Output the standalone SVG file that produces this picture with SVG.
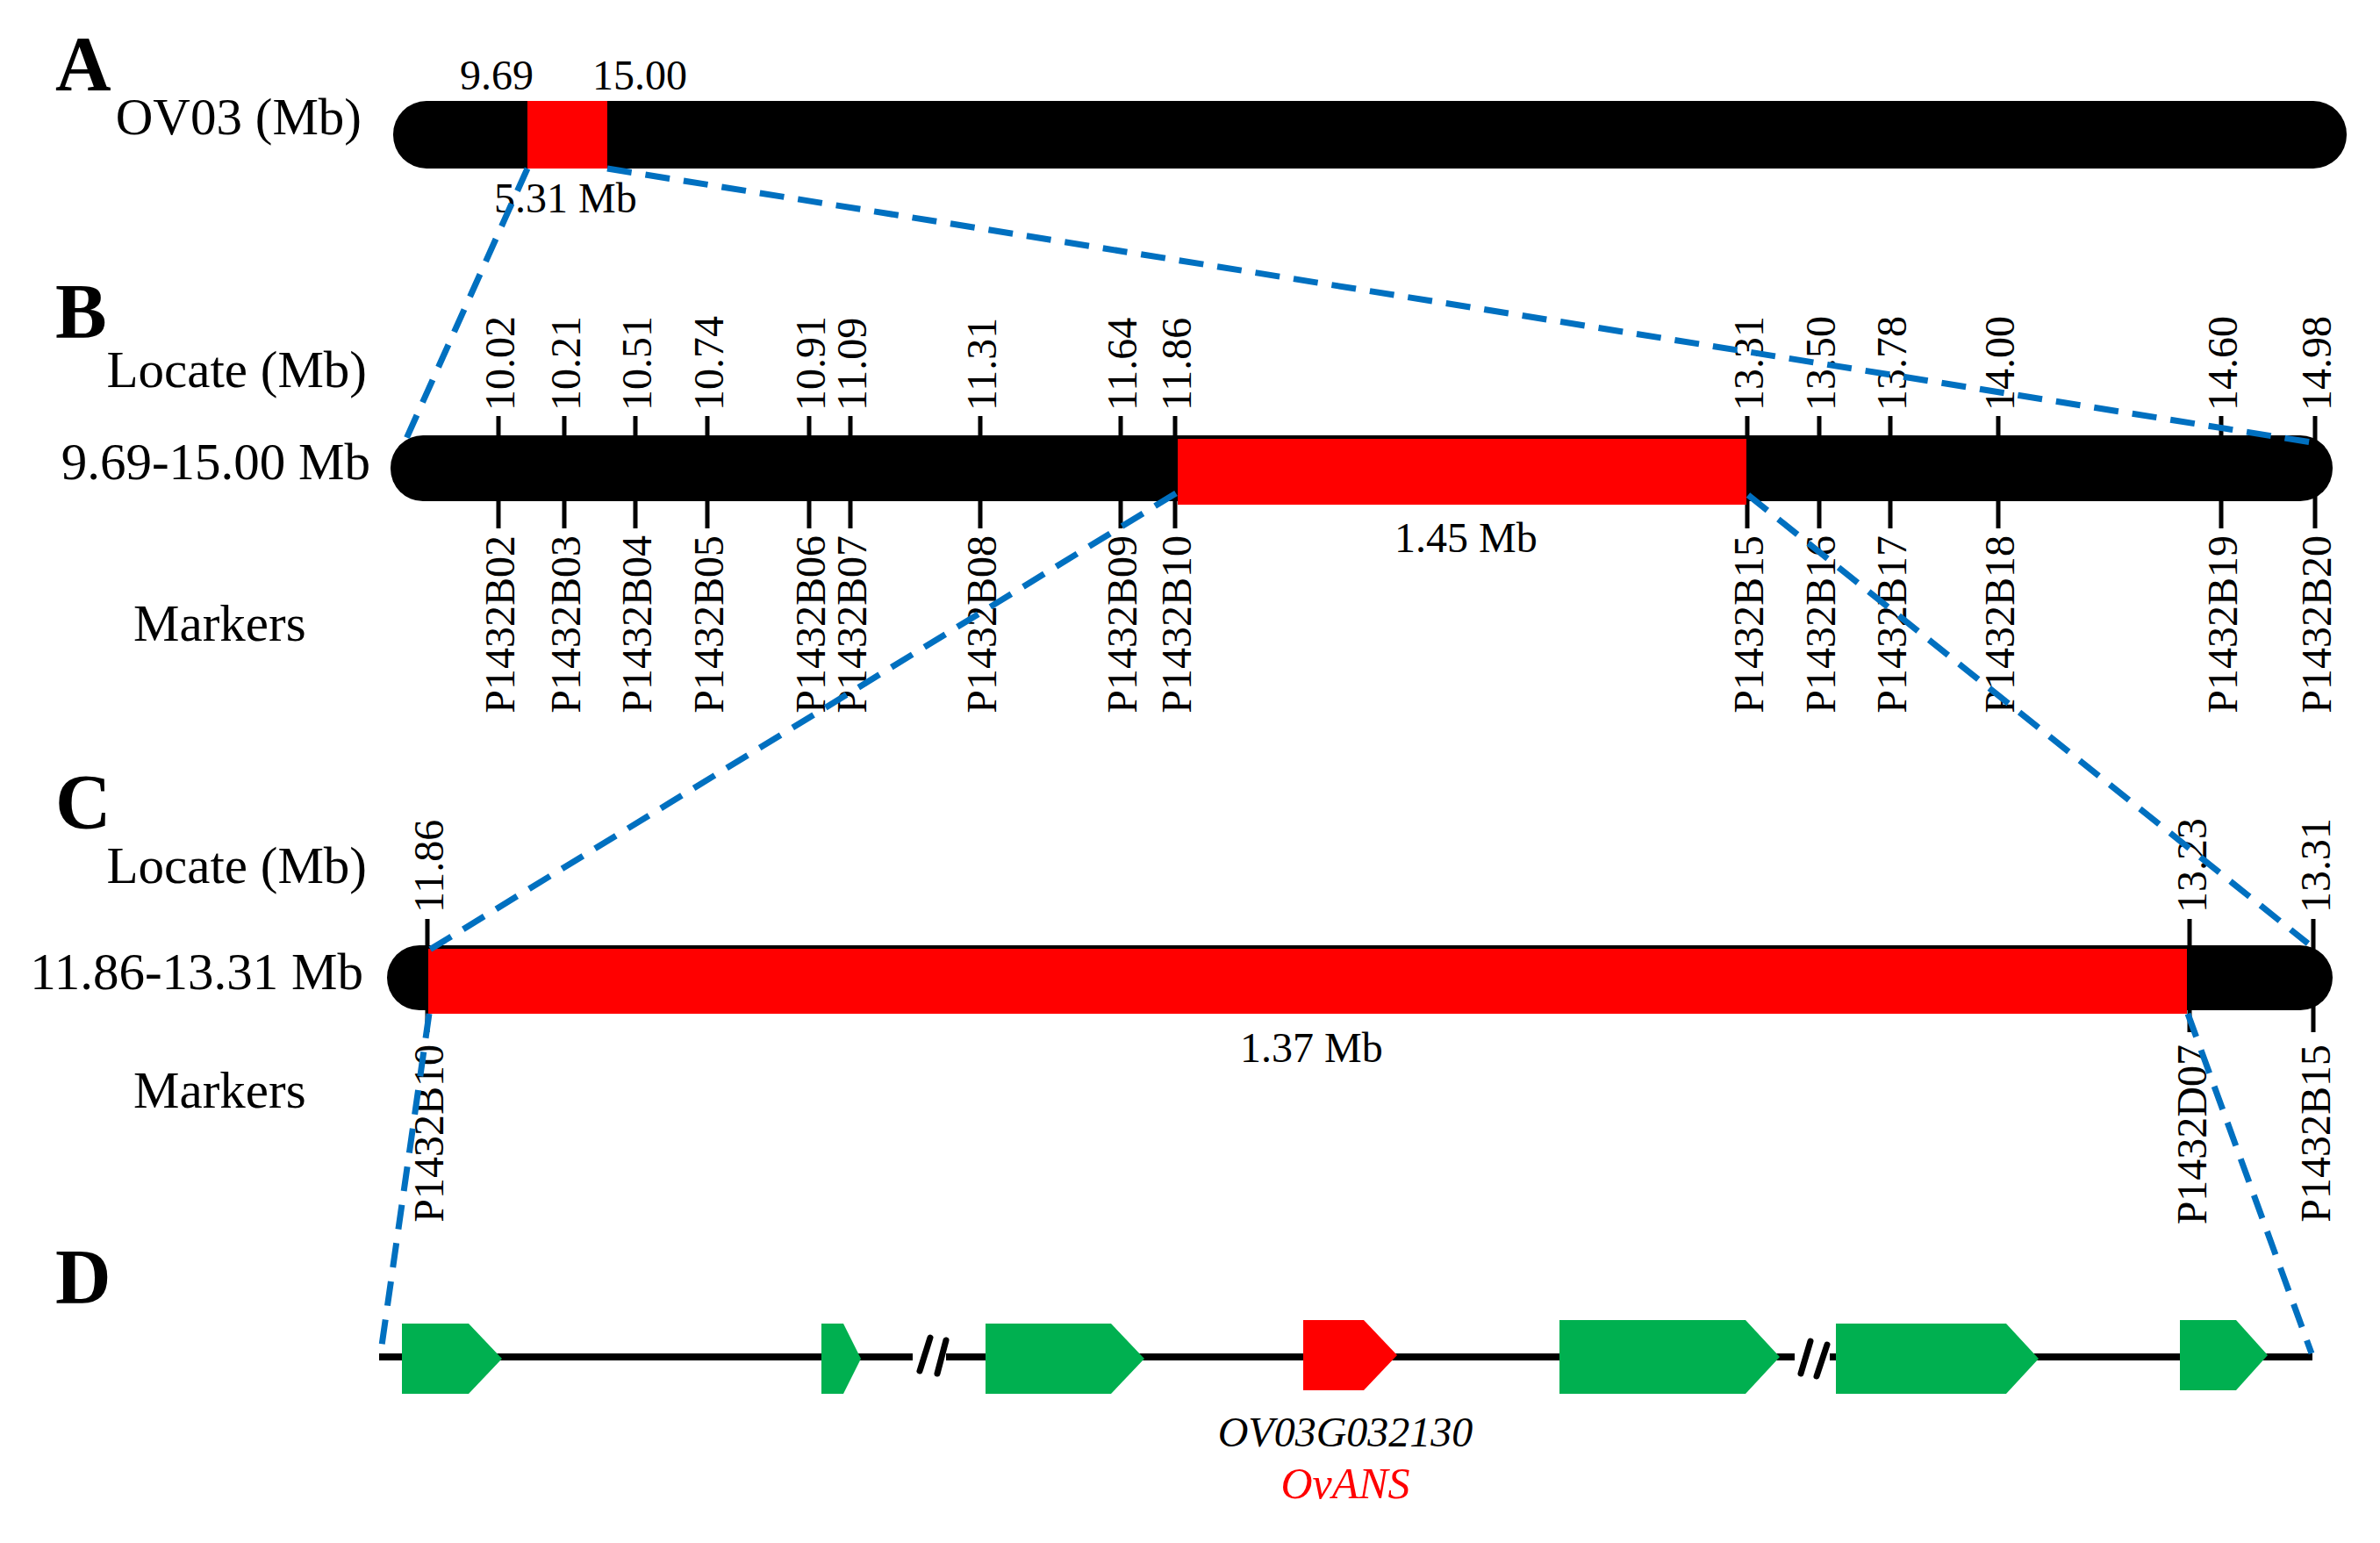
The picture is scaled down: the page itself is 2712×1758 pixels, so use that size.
<svg xmlns="http://www.w3.org/2000/svg" width="2712" height="1758" viewBox="0 0 2712 1758">
<style>
text{font-family:"Liberation Serif","Times New Roman",serif;fill:#000}
.pl{font-size:88px;font-weight:bold}
.lb{font-size:59px}
.v{font-size:48px}
.r{font-size:48px}
.tick{stroke:#000;stroke-width:5}
.dash{fill:none;stroke:#0070C0;stroke-width:7;stroke-dasharray:28 16}
.blk{fill:#000}
.red{fill:#FF0000}
.gene{fill:#00B050}
.dl{stroke:#000;stroke-width:8}
.sl{stroke:#000;stroke-width:7;stroke-linecap:round}
.it{font-style:italic}
</style>
<rect width="2712" height="1758" fill="#fff"/>

<g id="panelA">
<text class="pl" x="63" y="102">A</text>
<text class="lb" x="412" y="153" text-anchor="end">OV03 (Mb)</text>
<text class="v" x="524" y="102">9.69</text>
<text class="v" x="675" y="102">15.00</text>
<rect class="blk" x="448" y="115" width="2226" height="77" rx="38" ry="38"/>
<rect class="red" x="601" y="115" width="91" height="77"/>
<text class="v" x="563" y="242">5.31 Mb</text>
</g>

<g id="panelB">
<text class="pl" x="63" y="384">B</text>
<text class="lb" x="418" y="441" text-anchor="end">Locate (Mb)</text>
<text class="lb" x="422" y="546" text-anchor="end">9.69-15.00 Mb</text>
<text class="lb" x="152" y="730">Markers</text>
<g id="ticksB">
<line class="tick" x1="568" y1="474" x2="568" y2="602"/>
<line class="tick" x1="643" y1="474" x2="643" y2="602"/>
<line class="tick" x1="724" y1="474" x2="724" y2="602"/>
<line class="tick" x1="806" y1="474" x2="806" y2="602"/>
<line class="tick" x1="922" y1="474" x2="922" y2="602"/>
<line class="tick" x1="969" y1="474" x2="969" y2="602"/>
<line class="tick" x1="1117" y1="474" x2="1117" y2="602"/>
<line class="tick" x1="1277" y1="474" x2="1277" y2="602"/>
<line class="tick" x1="1339" y1="474" x2="1339" y2="602"/>
<line class="tick" x1="1991" y1="474" x2="1991" y2="602"/>
<line class="tick" x1="2073" y1="474" x2="2073" y2="602"/>
<line class="tick" x1="2154" y1="474" x2="2154" y2="602"/>
<line class="tick" x1="2277" y1="474" x2="2277" y2="602"/>
<line class="tick" x1="2531" y1="474" x2="2531" y2="602"/>
<line class="tick" x1="2638" y1="474" x2="2638" y2="602"/>
</g>
<rect class="blk" x="445" y="496" width="2213" height="75" rx="37" ry="37"/>
<rect class="red" x="1342" y="500" width="648" height="75"/>
<text class="v" x="1589" y="629">1.45 Mb</text>
<g id="posB">
<text class="r" transform="translate(586,468) rotate(-90)">10.02</text>
<text class="r" transform="translate(661,468) rotate(-90)">10.21</text>
<text class="r" transform="translate(742,468) rotate(-90)">10.51</text>
<text class="r" transform="translate(824,468) rotate(-90)">10.74</text>
<text class="r" transform="translate(940,468) rotate(-90)">10.91</text>
<text class="r" transform="translate(987,468) rotate(-90)">11.09</text>
<text class="r" transform="translate(1135,468) rotate(-90)">11.31</text>
<text class="r" transform="translate(1295,468) rotate(-90)">11.64</text>
<text class="r" transform="translate(1357,468) rotate(-90)">11.86</text>
<text class="r" transform="translate(2009,468) rotate(-90)">13.31</text>
<text class="r" transform="translate(2091,468) rotate(-90)">13.50</text>
<text class="r" transform="translate(2172,468) rotate(-90)">13.78</text>
<text class="r" transform="translate(2295,468) rotate(-90)">14.00</text>
<text class="r" transform="translate(2549,468) rotate(-90)">14.60</text>
<text class="r" transform="translate(2656,468) rotate(-90)">14.98</text>
</g>
<g id="markersB">
<text class="r" text-anchor="end" transform="translate(586,610) rotate(-90)">P1432B02</text>
<text class="r" text-anchor="end" transform="translate(661,610) rotate(-90)">P1432B03</text>
<text class="r" text-anchor="end" transform="translate(742,610) rotate(-90)">P1432B04</text>
<text class="r" text-anchor="end" transform="translate(824,610) rotate(-90)">P1432B05</text>
<text class="r" text-anchor="end" transform="translate(940,610) rotate(-90)">P1432B06</text>
<text class="r" text-anchor="end" transform="translate(987,610) rotate(-90)">P1432B07</text>
<text class="r" text-anchor="end" transform="translate(1135,610) rotate(-90)">P1432B08</text>
<text class="r" text-anchor="end" transform="translate(1295,610) rotate(-90)">P1432B09</text>
<text class="r" text-anchor="end" transform="translate(1357,610) rotate(-90)">P1432B10</text>
<text class="r" text-anchor="end" transform="translate(2009,610) rotate(-90)">P1432B15</text>
<text class="r" text-anchor="end" transform="translate(2091,610) rotate(-90)">P1432B16</text>
<text class="r" text-anchor="end" transform="translate(2172,610) rotate(-90)">P1432B17</text>
<text class="r" text-anchor="end" transform="translate(2295,610) rotate(-90)">P1432B18</text>
<text class="r" text-anchor="end" transform="translate(2549,610) rotate(-90)">P1432B19</text>
<text class="r" text-anchor="end" transform="translate(2656,610) rotate(-90)">P1432B20</text>
</g>
</g>

<g id="panelC">
<text class="pl" x="63" y="943">C</text>
<text class="lb" x="418" y="1006" text-anchor="end">Locate (Mb)</text>
<text class="lb" x="414" y="1127" text-anchor="end">11.86-13.31 Mb</text>
<text class="lb" x="152" y="1262">Markers</text>
<line class="tick" x1="487" y1="1047" x2="487" y2="1176"/>
<line class="tick" x1="2495" y1="1047" x2="2495" y2="1176"/>
<line class="tick" x1="2636" y1="1047" x2="2636" y2="1176"/>
<rect class="blk" x="441" y="1077" width="2217" height="74" rx="37" ry="37"/>
<rect class="red" x="488" y="1081" width="2004" height="74"/>
<text class="v" x="1413" y="1210">1.37 Mb</text>
<text class="r" transform="translate(505,1040) rotate(-90)">11.86</text>
<text class="r" transform="translate(2514,1040) rotate(-90)">13.23</text>
<text class="r" transform="translate(2655,1040) rotate(-90)">13.31</text>
<text class="r" text-anchor="end" transform="translate(505,1190) rotate(-90)">P1432B10</text>
<text class="r" text-anchor="end" transform="translate(2514,1190) rotate(-90)">P1432D07</text>
<text class="r" text-anchor="end" transform="translate(2655,1190) rotate(-90)">P1432B15</text>
</g>

<g id="panelD">
<text class="pl" x="63" y="1484">D</text>
<line class="dl" x1="432" y1="1546" x2="1040" y2="1546"/>
<line class="dl" x1="1078" y1="1546" x2="2045" y2="1546"/>
<line class="dl" x1="2085" y1="1546" x2="2635" y2="1546"/>
<line class="sl" x1="1060" y1="1524" x2="1048" y2="1562"/>
<line class="sl" x1="1078" y1="1527" x2="1068" y2="1565"/>
<line class="sl" x1="2063" y1="1528" x2="2052" y2="1565"/>
<line class="sl" x1="2082" y1="1532" x2="2070" y2="1568"/>
<g id="gene1"><polygon class="gene" points="458,1508 534,1508 572,1548 534,1588 458,1588"/></g>
<g id="gene2"><polygon class="gene" points="936,1508 961,1508 981,1548 961,1588 936,1588"/></g>
<g id="gene3"><polygon class="gene" points="1123,1508 1266,1508 1304,1548 1266,1588 1123,1588"/></g>
<g id="geneANS"><polygon class="red" points="1485,1504 1554,1504 1592,1544 1554,1584 1485,1584"/>
<text class="v it" x="1533" y="1648" text-anchor="middle">OV03G032130</text>
<text class="it" x="1533" y="1707" text-anchor="middle" style="font-size:50px;fill:#FF0000">OvANS</text>
</g>
<g id="gene4"><polygon class="gene" points="1777,1504 1989,1504 2028,1546 1989,1588 1777,1588"/></g>
<g id="gene5"><polygon class="gene" points="2092,1508 2286,1508 2323,1548 2286,1588 2092,1588"/></g>
<g id="gene6"><polygon class="gene" points="2484,1504 2548,1504 2584,1544 2548,1584 2484,1584"/></g>
</g>

<g id="connectors">
<line class="dash" x1="601" y1="192" x2="462" y2="502"/>
<line class="dash" x1="692" y1="192" x2="2640" y2="505"/>
<line class="dash" x1="1340" y1="562" x2="488" y2="1083"/>
<line class="dash" x1="1992" y1="564" x2="2630" y2="1075"/>
<line class="dash" x1="489" y1="1155" x2="434" y2="1540"/>
<line class="dash" x1="2493" y1="1155" x2="2634" y2="1542"/>
</g>
</svg>
